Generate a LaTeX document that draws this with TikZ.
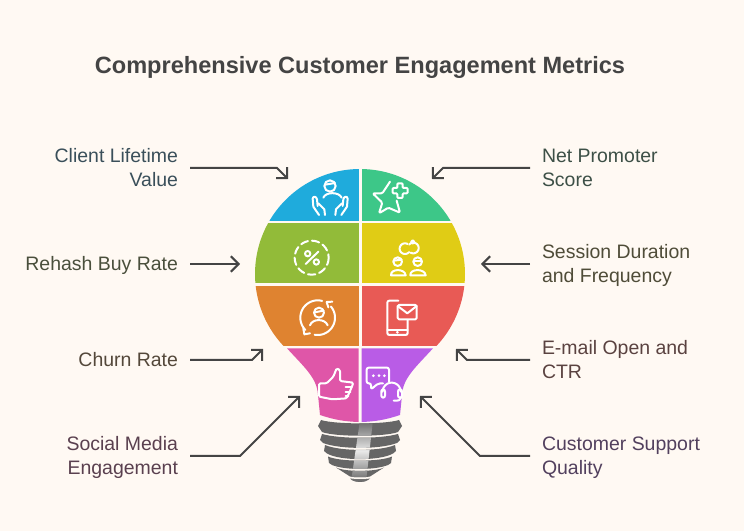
\documentclass[tikz,border=0pt]{standalone}
\usepackage{fontspec}
\setmainfont{Liberation Sans}
\usetikzlibrary{arrows.meta}
\definecolor{bgc}{HTML}{FFF9F3}
\definecolor{cblue}{HTML}{1FABDC}
\definecolor{cgreen}{HTML}{3DC788}
\definecolor{colive}{HTML}{92BB39}
\definecolor{cyellow}{HTML}{E0CC15}
\definecolor{corange}{HTML}{DF8330}
\definecolor{cred}{HTML}{E85A55}
\definecolor{cmag}{HTML}{DF56A8}
\definecolor{cpurp}{HTML}{B95CE6}
\definecolor{cgrey}{HTML}{666666}
\definecolor{cline}{HTML}{444444}
\definecolor{tcl}{HTML}{3A4F5A}
\definecolor{tnp}{HTML}{3D5047}
\definecolor{trb}{HTML}{4A4F3C}
\definecolor{tsd}{HTML}{4F4C38}
\definecolor{tch}{HTML}{54483A}
\definecolor{tem}{HTML}{5A4240}
\definecolor{tsm}{HTML}{5A404F}
\definecolor{tcs}{HTML}{52405E}
\newcommand{\lstrut}{\rule[-4pt]{0pt}{18pt}}
\newcommand{\screwpath}{
 (321,420) .. controls (335,424.5) and (385,424.5) .. (399,420) -- (402,426) -- (398,432) .. controls (385,437) and (335,437) .. (322,432) -- (318,426) -- cycle
 (322,434) .. controls (340,439) and (380,439) .. (398,434) -- (400,440) -- (397,443) .. controls (380,449.5) and (340,449.5) .. (323,443) -- (320,440) -- cycle
 (325,445) .. controls (340,451.5) and (380,451.5) .. (395,445) -- (396,451) -- (393,453.5) .. controls (380,461) and (340,461) .. (327,453.5) -- (324,451) -- cycle
 (328,456.5) .. controls (340,462) and (380,462) .. (392,456.5) -- (391,463) -- (388,465) .. controls (375,470.3) and (345,470.3) .. (332,465) -- (329,463) -- cycle
 (336,467.5) .. controls (345,472) and (375,472) .. (384,467.5) -- (370,476.5) .. controls (365,477.5) and (355,477.5) .. (350,476.5) -- cycle
 (350,478.5) .. controls (355,479.5) and (365,479.5) .. (370,478.5) .. controls (366,483) and (354,483) .. (350,478.5) -- cycle
}
\tikzset{
 zone/.style 2 args={shift={(#1,#2)},x=0.25pt,y=-0.25pt},
 icon/.style={draw=white,line width=1.5pt,line cap=round,line join=round},
 dotf/.style={fill=white,draw=none},
 labelbase/.style={font=\fontsize{14.6}{18}\selectfont,inner sep=0pt,outer ysep=0pt},
 leftlab/.style={labelbase,align=right,anchor=east,outer xsep=9pt},
 rightlab/.style={labelbase,align=left,anchor=west,outer xsep=9pt},
 conn/.style={draw=cline,line width=1.5pt,-{Straight Barb[length=5.8pt,width=11.7pt,line width=1.5pt]}},
}
\begin{document}
\begin{tikzpicture}[x=0.75pt,y=-0.75pt]
\useasboundingbox (0,0) rectangle (744,531);
\fill[bgc] (0,0) rectangle (744,531);

\node[font=\fontsize{17.67}{22}\selectfont\bfseries,text=cline,inner sep=0pt] (title) at (360,67.5) {Comprehensive Customer Engagement Metrics};

% bulb top rows
\begin{scope}
\clip (360,274) circle [radius=105];
\fill[cblue]   (250,160) rectangle (358.5,221);
\fill[cgreen]  (361.5,160) rectangle (470,221);
\fill[colive]  (250,223.5) rectangle (358.5,283.3);
\fill[cyellow] (361.5,223.5) rectangle (470,283.3);
\fill[corange] (250,286) rectangle (358.5,346);
\fill[cred]    (361.5,286) rectangle (470,346);
\end{scope}
% neck
\fill[cmag] (358.5,348.3) -- (287,348.3) .. controls (305,368) and (317,378) .. (318,395) -- (320,415) .. controls (335,420) and (345,421.5) .. (358.5,422) -- cycle;
\fill[cpurp] (361.5,348.3) -- (433,348.3) .. controls (415,368) and (403,378) .. (402,395) -- (400,415) .. controls (385,420) and (375,421.5) .. (361.5,422) -- cycle;

% screw base
\fill[cgrey] \screwpath;
\begin{scope}
\clip \screwpath;
\shade[left color=cgrey,right color=cgrey,middle color=white!85!cgrey,shading angle=0] (360,420) -- (373,420) -- (366,482) -- (351,482) -- cycle;
\end{scope}

% icons, upper rows
\begin{scope}[zone={245}{160}]
% hands
\draw[icon] (255,78) circle [radius=17];
\draw[icon] (240,74) -- (270,69);
\draw[icon] (235,113) .. controls (242,95) and (282,95) .. (290,113);
\draw[icon] (222,165) -- (205,140) -- (203,116) .. controls (204,108) and (214,108) .. (216,118) -- (218,138);
\draw[icon] (240,165) -- (238,148) -- (220,130);
\draw[icon] (289,165) -- (306,140) -- (308,116) .. controls (307,108) and (297,108) .. (295,118) -- (293,138);
\draw[icon] (271,165) -- (273,148) -- (291,130);
% star
\draw[icon,rounded corners=1pt] (435,65) -- (412,100) -- (383,100) -- (412,128) -- (402,160) -- (430,143) -- (465,158) -- (455,122);
\draw[icon,rounded corners=0.7pt] (457,70) -- (473,70) -- (473,84) -- (488,84) -- (488,100) -- (473,100) -- (473,114) -- (457,114) -- (457,100) -- (443,100) -- (443,84) -- (457,84) -- cycle;
% percent
\draw[icon,dash pattern=on 5.6pt off 3pt] (200,293) circle [radius=51];
\draw[icon] (182,312) -- (220,275);
\draw[icon] (188,281) circle [radius=8];
\draw[icon] (214,306) circle [radius=8];
% people, rings
\draw[icon] plot[domain=60:320,samples=30] ({480+16*cos(\x)},{266-16*sin(\x)});
\draw[icon] plot[domain=-120:140,samples=30] ({505+16*cos(\x)},{264-16*sin(\x)});
\draw[icon] (503,246) circle [radius=5];
\draw[icon] (458,305) circle [radius=13];
\draw[icon] (446,302) -- (470,299);
\draw[icon] (438,346) .. controls (436,325) and (480,325) .. (482,346) -- cycle;
\draw[icon] (518,305) circle [radius=13];
\draw[icon] (506,302) -- (530,302);
\draw[icon] (496,346) .. controls (494,325) and (540,325) .. (542,346) -- cycle;
\end{scope}

% icons, lower rows
\begin{scope}[zone={245}{280}]
% churn
\draw[icon] plot[domain=75:225,samples=30] ({218+52*cos(\x)},{113-52*sin(\x)});
\draw[icon] plot[domain=-100:40,samples=30] ({218+52*cos(\x)},{113-52*sin(\x)});
\draw[icon] (262,65) -- (245,66) -- (250,82);
\draw[icon] (175,145) -- (178,163) -- (195,160);
\draw[icon] (222,98) circle [radius=15];
\draw[icon] (208,97) -- (236,92);
\draw[icon] (195,136) .. controls (202,115) and (240,115) .. (248,136);
% phone
\draw[icon,rounded corners=1.5pt] (460,62) -- (427,62) -- (427,165) -- (488,165) -- (488,120);
\draw[icon] (427,150) -- (488,150);
\fill[dotf] (457,157) circle [radius=4.5];
\draw[icon,rounded corners=1pt] (458,75) rectangle (515,118);
\draw[icon] (458,78) -- (487,100) -- (515,78);
% thumb
\draw[icon,rounded corners=1pt] (222,310) -- (222,350) -- (262,358) -- (305,355) -- (312,340) -- (320,322) -- (325,308) -- (285,303) -- (285,270) -- (275,265) -- (265,290) -- (245,310) -- cycle;
\draw[icon] (302,320) -- (320,320);
\draw[icon] (302,335) -- (316,335);
\draw[icon] (302,348) -- (310,348);
% support
\draw[icon,rounded corners=1.5pt] (432,305) -- (432,263) -- (365,263) -- (365,310) -- (378,310) -- (378,328) -- (400,310) -- (414,310);
\fill[dotf] (385,287) circle [radius=4.5];
\fill[dotf] (402,287) circle [radius=4.5];
\fill[dotf] (418,287) circle [radius=4.5];
\draw[icon] plot[domain=0:180,samples=24] ({440+27*cos(\x)},{335-27*sin(\x)});
\draw[icon,rounded corners=1.5pt] (409,328) rectangle (420,353);
\draw[icon,rounded corners=1.5pt] (459,328) rectangle (471,353);
\draw[icon] (468,353) .. controls (468,360) and (460,363) .. (446,362);
\end{scope}

% labels
\node[leftlab,text=tcl] (lcl) at (190,168) {\lstrut Client Lifetime\\\lstrut Value};
\node[leftlab,text=trb] (lrb) at (190,264) {\lstrut Rehash Buy Rate};
\node[leftlab,text=tch] (lch) at (190,360) {\lstrut Churn Rate};
\node[leftlab,text=tsm] (lsm) at (190,456) {\lstrut Social Media\\\lstrut Engagement};
\node[rightlab,text=tnp] (rnp) at (530,168) {\lstrut Net Promoter\\\lstrut Score};
\node[rightlab,text=tsd] (rsd) at (530,264) {\lstrut Session Duration\\\lstrut and Frequency};
\node[rightlab,text=tem] (rem) at (530,360) {\lstrut E-mail Open and\\\lstrut CTR};
\node[rightlab,text=tcs] (rcs) at (530,456) {\lstrut Customer Support\\\lstrut Quality};

% connector ends
\coordinate (ecl) at (288,179);
\coordinate (erb) at (240,264);
\coordinate (ech) at (263,349);
\coordinate (esm) at (300,396);
\coordinate (enp) at (432,179);
\coordinate (esd) at (481,264);
\coordinate (eem) at (456,349);
\coordinate (ecs) at (420,396);
\coordinate (bcl) at (277,168);
\coordinate (bch) at (252,360);
\coordinate (bsm) at (240,456);
\coordinate (bnp) at (443,168);
\coordinate (bem) at (467,360);
\coordinate (bcs) at (480,456);

\draw[conn] (lcl.east) -- (bcl) -- (ecl);
\draw[conn] (lrb.east) -- (erb);
\draw[conn] (lch.east) -- (bch) -- (ech);
\draw[conn] (lsm.east) -- (bsm) -- (esm);
\draw[conn] (rnp.west) -- (bnp) -- (enp);
\draw[conn] (rsd.west) -- (esd);
\draw[conn] (rem.west) -- (bem) -- (eem);
\draw[conn] (rcs.west) -- (bcs) -- (ecs);
\end{tikzpicture}
\end{document}
